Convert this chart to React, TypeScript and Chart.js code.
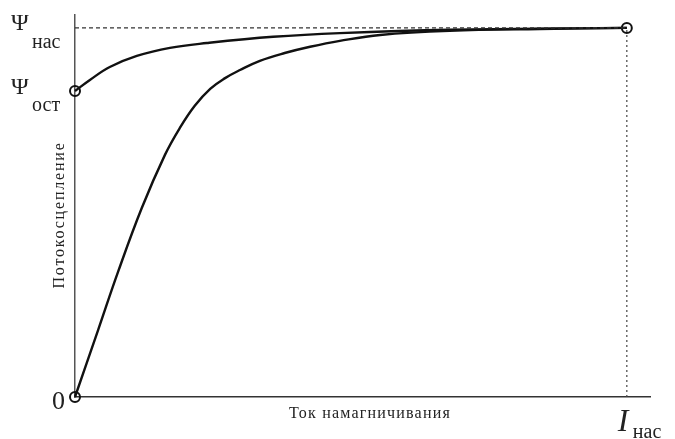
import React, { useEffect, useRef } from "react";
import { Chart, registerables } from "chart.js";

Chart.register(...registerables);

// Initial magnetization curve (x = I / I_нас, y = Ψ / Ψ_нас)
const initialX = [0, 0.042, 0.078, 0.121, 0.163, 0.19, 0.217, 0.245, 0.272, 0.299, 0.335, 0.38, 0.426, 0.48, 0.553, 0.679, 0.842, 1];
const initialY = [0, 0.182, 0.339, 0.512, 0.656, 0.729, 0.789, 0.835, 0.864, 0.886, 0.911, 0.932, 0.949, 0.965, 0.981, 0.992, 0.997, 1];
// Return (demagnetization) curve
const returnX = [0, 0.027, 0.063, 0.112, 0.172, 0.239, 0.359, 0.48, 0.679, 1];
const returnY = [0.829, 0.859, 0.894, 0.924, 0.946, 0.959, 0.976, 0.986, 0.995, 1];

const psiSat = 1;
const psiRes = 0.829;
const iSat = 1;
const xMax = 1.042;
const yMax = 1.035;

const xTitle = "Ток намагничивания";
const yTitle = "Потокосцепление";

const FONT = "'Liberation Serif', 'DejaVu Serif', serif";

export default function App() {
  const ref = useRef<HTMLCanvasElement | null>(null);
  useEffect(() => {
    const canvas = ref.current;
    if (!canvas) return;
    const labelsPlugin = {
      id: "labels",
      afterDraw(chart: any) {
        const ctx = chart.ctx;
        const xs = chart.scales.x;
        const ys = chart.scales.y;
        const x0 = xs.getPixelForValue(0);
        const y0 = ys.getPixelForValue(0);
        const xs1 = xs.getPixelForValue(iSat);
        const ySat = ys.getPixelForValue(psiSat);
        const yRes = ys.getPixelForValue(psiRes);
        ctx.save();
        ctx.fillStyle = "#222";
        ctx.textBaseline = "alphabetic";
        ctx.textAlign = "left";
        // Ψ нас
        ctx.font = `24px ${FONT}`;
        ctx.fillText("Ψ", x0 - 64, ySat + 2);
        ctx.font = `20px ${FONT}`;
        ctx.fillText("нас", x0 - 43, ySat + 20);
        // Ψ ост
        ctx.font = `24px ${FONT}`;
        ctx.fillText("Ψ", x0 - 64, yRes + 3);
        ctx.font = `20px ${FONT}`;
        ctx.fillText("ост", x0 - 43, yRes + 20);
        // 0
        ctx.font = `26px ${FONT}`;
        ctx.fillText("0", x0 - 23, y0 + 12);
        // I нас
        ctx.font = `italic 32px ${FONT}`;
        ctx.fillText("I", xs1 - 9, y0 + 34);
        ctx.font = `20px ${FONT}`;
        ctx.fillText("нас", xs1 + 6, y0 + 41);
        // axis titles
        ctx.font = `16px ${FONT}`;
        ctx.textAlign = "center";
        (ctx as any).letterSpacing = "1.2px";
        ctx.fillText(xTitle, 370, y0 + 21);
        (ctx as any).letterSpacing = "1.8px";
        ctx.save();
        ctx.translate(x0 - 11, 215);
        ctx.rotate(-Math.PI / 2);
        ctx.fillText(yTitle, 0, 0);
        ctx.restore();
        (ctx as any).letterSpacing = "0px";
        ctx.restore();
      },
    };
    const chart = new Chart(canvas, {
      type: "line",
      data: {
        datasets: [
          {
            data: [
              { x: 0, y: psiSat },
              { x: iSat, y: psiSat },
            ],
            borderColor: "#333",
            borderWidth: 1.2,
            borderDash: [4, 3],
            pointRadius: 0,
          },
          {
            data: [
              { x: iSat, y: 0 },
              { x: iSat, y: psiSat },
            ],
            borderColor: "#444",
            borderWidth: 1.2,
            borderDash: [2, 3],
            pointRadius: 0,
          },
          {
            data: initialX.map((x, i) => ({ x, y: initialY[i] })),
            borderColor: "#111",
            borderWidth: 2.4,
            pointRadius: 0,
            tension: 0.4,
            clip: false,
          },
          {
            data: returnX.map((x, i) => ({ x, y: returnY[i] })),
            borderColor: "#111",
            borderWidth: 2.4,
            pointRadius: 0,
            tension: 0.4,
            clip: false,
          },
          {
            data: [
              { x: 0, y: 0 },
              { x: 0, y: psiRes },
              { x: iSat, y: psiSat },
            ],
            showLine: false,
            pointRadius: 5,
            pointBorderWidth: 2,
            pointBorderColor: "#111",
            pointBackgroundColor: "rgba(255,255,255,0)",
            clip: false,
          },
        ],
      },
      options: {
        responsive: false,
        animation: false,
        layout: { padding: { left: 75, right: 25, top: 15, bottom: 42 } },
        plugins: { legend: { display: false }, tooltip: { enabled: false } },
        scales: {
          x: {
            type: "linear",
            min: 0,
            max: xMax,
            grid: { display: false, drawTicks: false },
            ticks: { display: false },
            border: { display: true, color: "#333", width: 1.5 },
          },
          y: {
            type: "linear",
            min: 0,
            max: yMax,
            grid: { display: false, drawTicks: false },
            ticks: { display: false },
            border: { display: true, color: "#555", width: 1.5 },
          },
        },
      },
      plugins: [labelsPlugin],
    } as any);
    return () => chart.destroy();
  }, []);
  return (
    <div style={{ position: "fixed", left: 0, top: 0, width: 675, height: 439, background: "#fff" }}>
      <canvas ref={ref} width={675} height={439} />
    </div>
  );
}
